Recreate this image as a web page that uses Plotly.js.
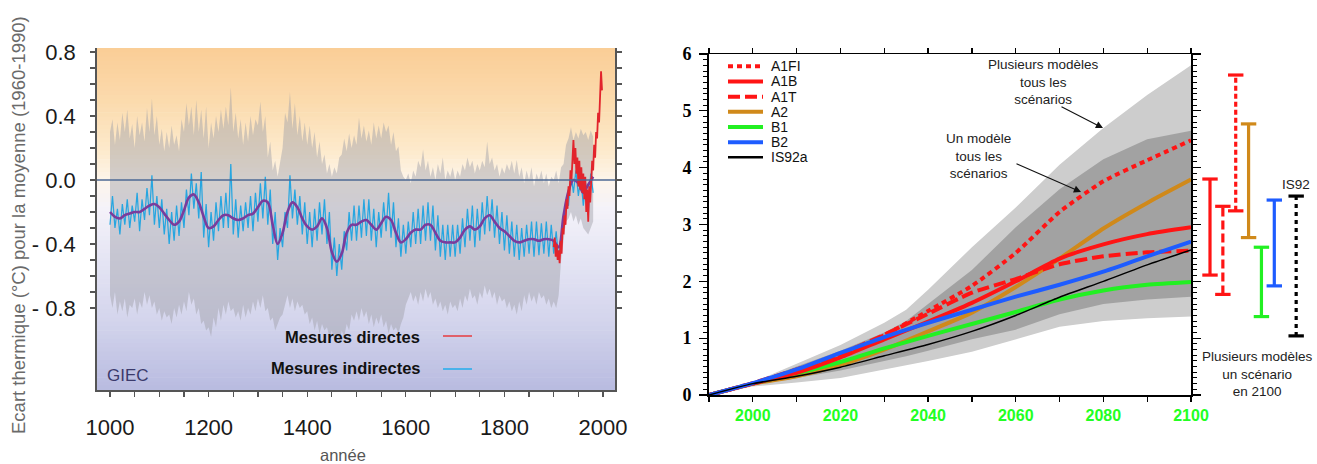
<!DOCTYPE html>
<html><head><meta charset="utf-8">
<script src="https://cdn.plot.ly/plotly-3.0.1.min.js"></script>
<style>html,body{margin:0;padding:0;background:#fff}#chart{width:1317px;height:464px}</style>
</head><body><div id="chart"></div>
<script>
// ================= DATA =================
function yearsFrom(a, b, s){ const r=[]; for(let v=a; v<=b+1e-9; v+=s) r.push(v); return r; }

// ---- Left panel: reconstruction 1000-2000 ----
const proxyYears = yearsFrom(1000, 1980, 5);
const proxy = [
 -0.28,-0.10,-0.30,-0.18,-0.34,-0.15,-0.28,-0.12,-0.30,-0.16,
 -0.26,-0.08,-0.32,-0.12,-0.25,-0.05,-0.22,0.03,-0.28,-0.10,
 -0.30,-0.12,-0.34,-0.18,-0.40,-0.20,-0.38,-0.16,-0.35,-0.14,
 -0.30,-0.06,-0.22,0.04,-0.18,-0.02,-0.24,0.05,-0.36,-0.15,
 -0.42,-0.20,-0.38,-0.14,-0.32,-0.10,-0.30,-0.08,-0.30,0.10,
 -0.34,-0.12,-0.36,-0.16,-0.32,-0.14,-0.30,-0.10,-0.32,-0.08,
 -0.26,-0.02,-0.24,0.02,-0.28,-0.06,-0.40,-0.20,-0.50,-0.30,
 -0.42,-0.20,-0.30,0.03,-0.24,-0.06,-0.28,-0.10,-0.34,-0.14,
 -0.40,-0.20,-0.42,-0.18,-0.38,-0.14,-0.34,-0.12,-0.40,-0.20,
 -0.56,-0.36,-0.60,-0.40,-0.56,-0.32,-0.44,-0.20,-0.38,-0.16,
 -0.38,-0.16,-0.36,-0.12,-0.35,-0.12,-0.38,-0.18,-0.42,-0.20,
 -0.36,-0.14,-0.32,-0.08,-0.36,-0.14,-0.42,-0.24,-0.48,-0.28,
 -0.46,-0.26,-0.42,-0.20,-0.40,-0.18,-0.40,-0.16,-0.38,-0.14,
 -0.38,-0.16,-0.44,-0.22,-0.48,-0.28,-0.50,-0.28,-0.48,-0.28,
 -0.48,-0.28,-0.46,-0.24,-0.42,-0.18,-0.38,-0.16,-0.42,-0.18,
 -0.38,-0.14,-0.34,-0.10,-0.32,-0.12,-0.36,-0.16,-0.40,-0.20,
 -0.44,-0.22,-0.46,-0.26,-0.48,-0.28,-0.50,-0.30,-0.48,-0.28,
 -0.46,-0.26,-0.48,-0.26,-0.47,-0.27,-0.46,-0.26,-0.48,-0.28,
 -0.46,-0.32,-0.50,-0.36,-0.30,-0.14,-0.16,0.04,-0.08,0.06,
 -0.10,0.02,-0.16,-0.02,-0.22,0.04,-0.08
];
const bandHi = [
 0.30,0.38,0.22,0.36,0.25,0.42,0.30,0.44,0.26,0.35,
 0.20,0.40,0.28,0.36,0.24,0.45,0.30,0.51,0.28,0.40,
 0.22,0.32,0.18,0.30,0.20,0.34,0.22,0.28,0.18,0.38,
 0.30,0.48,0.34,0.46,0.28,0.50,0.30,0.44,0.26,0.46,
 0.20,0.36,0.26,0.40,0.30,0.44,0.32,0.46,0.34,0.58,
 0.30,0.42,0.26,0.38,0.22,0.36,0.24,0.40,0.28,0.38,
 0.34,0.49,0.30,0.40,0.14,0.24,0.06,0.12,0.02,0.10,
 0.20,0.42,0.36,0.55,0.32,0.48,0.28,0.40,0.24,0.36,
 0.22,0.34,0.20,0.30,0.14,0.24,0.10,0.16,0.04,0.10,
 0.02,0.08,0.04,0.14,0.16,0.26,0.18,0.29,0.20,0.28,
 0.22,0.39,0.26,0.34,0.24,0.31,0.22,0.36,0.26,0.34,
 0.26,0.36,0.30,0.34,0.22,0.30,0.18,0.21,0.06,0.02,
 0.00,0.04,-0.02,0.06,0.02,0.12,0.08,0.19,0.06,0.12,
 0.02,0.08,0.00,0.10,0.04,0.14,0.00,0.06,0.02,0.08,
 0.00,0.06,0.02,0.10,0.06,0.14,0.08,0.12,0.04,0.10,
 0.06,0.12,0.08,0.24,0.10,0.14,0.06,0.10,0.02,0.08,
 0.04,0.10,0.06,0.12,0.04,0.125,0.02,0.08,-0.02,0.06,
 0.00,0.08,-0.04,0.04,0.00,0.06,-0.02,0.04,-0.04,0.02,
 0.00,0.06,-0.02,0.08,0.10,0.22,0.26,0.33,0.25,0.30,
 0.26,0.32,0.28,0.30,0.25,0.31,0.27
];
const bandLo = [
 -0.72,-0.80,-0.70,-0.84,-0.76,-0.82,-0.74,-0.86,-0.78,-0.80,
 -0.74,-0.84,-0.76,-0.80,-0.70,-0.78,-0.72,-0.80,-0.76,-0.84,
 -0.80,-0.88,-0.82,-0.86,-0.84,-0.90,-0.80,-0.86,-0.78,-0.84,
 -0.76,-0.82,-0.70,-0.78,-0.74,-0.84,-0.80,-0.90,-0.88,-0.94,
 -0.92,-0.98,-0.86,-0.92,-0.80,-0.88,-0.78,-0.84,-0.76,-0.82,
 -0.80,-0.86,-0.82,-0.88,-0.78,-0.86,-0.80,-0.84,-0.76,-0.82,
 -0.74,-0.80,-0.72,-0.82,-0.80,-0.88,-0.86,-0.94,-0.90,-0.86,
 -0.84,-0.78,-0.72,-0.80,-0.74,-0.82,-0.76,-0.80,-0.78,-0.84,
 -0.82,-0.90,-0.86,-0.94,-0.88,-0.96,-0.90,-0.94,-0.92,-0.98,
 -0.94,-1.00,-0.96,-1.02,-0.94,-0.98,-0.90,-0.94,-0.84,-0.88,
 -0.82,-0.88,-0.80,-0.86,-0.82,-0.90,-0.84,-0.92,-0.86,-0.90,
 -0.84,-0.92,-0.88,-0.96,-0.90,-0.94,-0.92,-0.96,-0.90,-0.86,
 -0.78,-0.74,-0.70,-0.76,-0.72,-0.78,-0.70,-0.76,-0.68,-0.74,
 -0.70,-0.78,-0.74,-0.80,-0.76,-0.82,-0.78,-0.84,-0.76,-0.80,
 -0.78,-0.82,-0.74,-0.80,-0.72,-0.76,-0.68,-0.74,-0.72,-0.78,
 -0.70,-0.74,-0.66,-0.72,-0.68,-0.74,-0.70,-0.78,-0.72,-0.76,
 -0.74,-0.80,-0.76,-0.82,-0.78,-0.84,-0.76,-0.82,-0.72,-0.78,
 -0.70,-0.76,-0.72,-0.78,-0.70,-0.74,-0.72,-0.78,-0.74,-0.80,
 -0.76,-0.80,-0.72,-0.50,-0.36,-0.26,-0.24,-0.20,-0.26,-0.22,
 -0.28,-0.24,-0.30,-0.32,-0.34,-0.30,-0.26
];
const smoothYears = yearsFrom(1000, 1980, 10);
const smooth = [
 -0.20,-0.23,-0.24,-0.22,-0.21,-0.20,-0.20,-0.18,-0.16,-0.15,
 -0.17,-0.21,-0.25,-0.28,-0.26,-0.19,-0.11,-0.09,-0.14,-0.23,
 -0.30,-0.29,-0.25,-0.22,-0.22,-0.24,-0.25,-0.24,-0.22,-0.21,
 -0.17,-0.13,-0.14,-0.28,-0.40,-0.33,-0.20,-0.14,-0.17,-0.24,
 -0.29,-0.31,-0.29,-0.24,-0.30,-0.45,-0.51,-0.46,-0.33,-0.28,
 -0.28,-0.26,-0.25,-0.28,-0.31,-0.27,-0.23,-0.25,-0.33,-0.39,
 -0.37,-0.33,-0.31,-0.31,-0.28,-0.28,-0.33,-0.38,-0.39,-0.39,
 -0.39,-0.36,-0.31,-0.29,-0.31,-0.29,-0.24,-0.22,-0.26,-0.30,
 -0.32,-0.35,-0.38,-0.39,-0.38,-0.37,-0.37,-0.38,-0.37,-0.37,
 -0.38,-0.42,-0.22,-0.07,0.00,-0.02,-0.08,-0.03,0.02
];
const directYears = yearsFrom(1900, 1998, 2);
const direct = [
 -0.42,-0.36,-0.48,-0.40,-0.50,-0.44,-0.52,-0.38,-0.46,-0.30,
 -0.34,-0.22,-0.28,-0.12,-0.18,-0.04,-0.10,0.06,0.00,0.18,
 0.25,0.10,0.20,0.04,0.14,-0.04,0.12,-0.06,0.08,-0.08,
 0.04,-0.12,0.02,-0.20,-0.06,-0.26,-0.04,-0.14,0.02,0.12,
 0.06,0.22,0.14,0.30,0.26,0.42,0.36,0.52,0.68,0.56
];
const leftYTickVals = [-0.8,-0.7,-0.6,-0.5,-0.4,-0.3,-0.2,-0.1,0,0.1,0.2,0.3,0.4,0.5,0.6,0.7,0.8];
const leftYTickText = ['- 0.8','','','','- 0.4','','','','0.0','','','','0.4','','','','0.8'];
const leftXTickVals = yearsFrom(1000, 2000, 50);
const leftXLabels = {1000:'1000',1200:'1200',1400:'1400',1600:'1600',1800:'1800',2000:'2000'};

// ---- Right panel: projections 1990-2100 ----
const scenYears = [1990,2000,2010,2020,2030,2040,2050,2060,2070,2080,2090,2100];
const A1FI  = [0,0.20,0.42,0.68,1.05,1.48,1.92,2.50,3.22,3.76,4.13,4.48];
const A1B   = [0,0.20,0.39,0.66,0.98,1.29,1.62,2.00,2.40,2.65,2.83,2.95];
const A1T   = [0,0.21,0.45,0.72,1.06,1.43,1.80,2.04,2.30,2.44,2.51,2.54];
const A2    = [0,0.20,0.33,0.53,0.80,1.12,1.45,1.90,2.40,2.93,3.38,3.79];
const B1    = [0,0.20,0.38,0.58,0.82,1.04,1.25,1.46,1.68,1.84,1.94,1.99];
const B2    = [0,0.21,0.45,0.74,1.02,1.27,1.50,1.73,1.94,2.17,2.44,2.70];
const IS92a = [0,0.20,0.33,0.49,0.69,0.89,1.12,1.40,1.72,2.00,2.29,2.55];
const bandYears = [1990,2000,2010,2020,2030,2035,2040,2050,2060,2070,2080,2090,2100];
const allHi  = [0,0.22,0.55,0.88,1.27,1.50,1.85,2.60,3.30,4.05,4.70,5.28,5.80];
const allLo  = [0,0.15,0.22,0.30,0.45,0.52,0.60,0.76,0.98,1.20,1.30,1.35,1.38];
const oneHi  = [0,0.21,0.50,0.78,1.10,1.30,1.60,2.20,2.95,3.62,4.15,4.50,4.65];
const oneLo  = [0,0.18,0.30,0.43,0.60,0.68,0.78,0.98,1.15,1.42,1.60,1.68,1.73];
const rightXTickVals = [1990,2000,2010,2020,2030,2040,2050,2060,2070,2080,2090,2100];
const rightXTickText = ['','2000','','2020','','2040','','2060','','2080','','2100'];

// 2100 ranges, several models one scenario
const rangeNames = ['A1B','A1T','A1FI','A2','B1','B2','IS92'];
const rangePos   = [1,2,3,4,5,6,7.7];
const rangeLow   = [2.11,1.77,3.24,2.77,1.38,1.92,1.04];
const rangeHigh  = [3.80,3.32,5.63,4.77,2.60,3.43,3.50];

// ================= STYLE =================
const W = 1317, H = 464;
const PX = x => x / W, PY = y => 1 - y / H;
const FONT = 'Liberation Sans, Arial, sans-serif';
const RED='#ff1414', ORANGE='#d0891a', GREEN='#22f022', BLUE='#1e5cff', BLACK='#000000';
const scen = [
  {name:'A1FI', y:A1FI, color:RED, dash:'5px,4px', w:4},
  {name:'A1B', y:A1B, color:RED, dash:'solid', w:4},
  {name:'A1T', y:A1T, color:RED, dash:'12px,5px', w:4},
  {name:'A2', y:A2, color:ORANGE, dash:'solid', w:4},
  {name:'B1', y:B1, color:GREEN, dash:'solid', w:4},
  {name:'B2', y:B2, color:BLUE, dash:'solid', w:4},
  {name:'IS92a', y:IS92a, color:BLACK, dash:'solid', w:1.5}
];
const rangeStyle = {
  'A1B':{color:RED,dash:'solid'}, 'A1T':{color:RED,dash:'9px,4px'}, 'A1FI':{color:RED,dash:'5px,3px'},
  'A2':{color:ORANGE,dash:'solid'}, 'B1':{color:GREEN,dash:'solid'}, 'B2':{color:BLUE,dash:'solid'},
  'IS92':{color:BLACK,dash:'4px,4px'}
};

const traces = [];
// left
traces.push({x:proxyYears, y:bandLo, mode:'lines', line:{width:0,color:'rgba(0,0,0,0)'}, hoverinfo:'skip', xaxis:'x', yaxis:'y'});
traces.push({x:proxyYears, y:bandHi, mode:'lines', fill:'tonexty', fillcolor:'rgba(160,160,168,0.46)', line:{width:0,color:'rgba(0,0,0,0)'}, hoverinfo:'skip', xaxis:'x', yaxis:'y'});
traces.push({x:proxyYears, y:proxy, mode:'lines', line:{color:'#27a6e0', width:1.25}, xaxis:'x', yaxis:'y', name:'Mesures indirectes'});
traces.push({x:smoothYears, y:smooth, mode:'lines', line:{color:'#7a3c9c', width:2.6, shape:'spline', smoothing:1}, xaxis:'x', yaxis:'y'});
traces.push({x:directYears, y:direct, mode:'lines', line:{color:'#e2242c', width:1.8}, xaxis:'x', yaxis:'y', name:'Mesures directes'});
// right bands
traces.push({x:bandYears, y:allLo, mode:'lines', line:{width:0,color:'rgba(0,0,0,0)'}, hoverinfo:'skip', xaxis:'x2', yaxis:'y2'});
traces.push({x:bandYears, y:allHi, mode:'lines', fill:'tonexty', fillcolor:'#cdcdcd', line:{width:0,color:'rgba(0,0,0,0)'}, hoverinfo:'skip', xaxis:'x2', yaxis:'y2'});
traces.push({x:bandYears, y:oneLo, mode:'lines', line:{width:0,color:'rgba(0,0,0,0)'}, hoverinfo:'skip', xaxis:'x2', yaxis:'y2'});
traces.push({x:bandYears, y:oneHi, mode:'lines', fill:'tonexty', fillcolor:'#a2a2a2', line:{width:0,color:'rgba(0,0,0,0)'}, hoverinfo:'skip', xaxis:'x2', yaxis:'y2'});
// scenario lines (draw order)
['A2','B1','A1B','A1T','A1FI','B2','IS92a'].forEach(n => {
  const s = scen.find(d => d.name === n);
  traces.push({x:scenYears, y:s.y, name:s.name, mode:'lines', line:{color:s.color, width:s.w, dash:s.dash, shape:'spline', smoothing:0.6}, xaxis:'x2', yaxis:'y2'});
});
// ranges in 2100
rangeNames.forEach((n,i) => {
  const st = rangeStyle[n];
  traces.push({x:[rangePos[i],rangePos[i]], y:[rangeLow[i],rangeHigh[i]], mode:'lines+markers', name:n,
    line:{color:st.color, width:3.2, dash:st.dash},
    marker:{symbol:'line-ew', size:11, color:st.color, line:{color:st.color, width:3.2}},
    cliponaxis:false, xaxis:'x3', yaxis:'y2'});
});

// gradient background for left plot
const stops = [[0,[250,205,150]],[0.16,[251,219,174]],[0.30,[253,234,204]],[0.39,[253,245,235]],[0.47,[244,242,249]],[0.62,[229,229,244]],[0.80,[211,212,236]],[1,[184,187,224]]];
function gcol(t){
  for(let i=0;i<stops.length-1;i++){
    const [t0,c0]=stops[i],[t1,c1]=stops[i+1];
    if(t<=t1){const f=(t-t0)/(t1-t0);return 'rgb('+c0.map((c,k)=>Math.round(c+(c1[k]-c)*f)).join(',')+')';}
  }
  return 'rgb('+stops[stops.length-1][1].join(',')+')';
}
const shapes = [];
const N = 80;
for(let i=0;i<N;i++){
  const tTop=i/N, tBot=(i+1)/N;
  shapes.push({type:'rect', xref:'x domain', yref:'y domain', x0:0, x1:1, y0:1-tBot-0.002, y1:1-tTop, fillcolor:gcol((tTop+tBot)/2), line:{width:0}, layer:'below'});
}
// zero reference line
shapes.push({type:'line', xref:'x domain', yref:'y', x0:0, x1:1, y0:0, y1:0, line:{color:'#4d6894', width:1.6}, layer:'above'});
// left legend samples
shapes.push({type:'line', xref:'paper', yref:'paper', x0:PX(443), x1:PX(472), y0:PY(336), y1:PY(336), line:{color:'#e0606a', width:2}});
shapes.push({type:'line', xref:'paper', yref:'paper', x0:PX(443), x1:PX(472), y0:PY(369), y1:PY(369), line:{color:'#4ab2ea', width:2}});
// right legend samples
const annotations = [];
scen.forEach((s,i) => {
  const yy = 66.3 + i*15.17;
  shapes.push({type:'line', xref:'paper', yref:'paper', x0:PX(728), x1:PX(763), y0:PY(yy), y1:PY(yy), line:{color:s.color, width:s.name==='IS92a'?2.5:4, dash:s.dash}});
  annotations.push({xref:'paper', yref:'paper', x:PX(769), y:PY(yy), xanchor:'left', yanchor:'middle', text:s.name, showarrow:false, font:{family:FONT, size:14, color:'#111'}});
});

function txt(t, x, y, opts){ return Object.assign({xref:'paper', yref:'paper', x:PX(x), y:PY(y), text:t, showarrow:false, xanchor:'center', yanchor:'middle', font:{family:FONT, size:14, color:'#1a1a1a'}}, opts||{}); }
annotations.push(txt('Ecart thermique (°C) pour la moyenne (1960-1990)', 18, 225, {textangle:-90, font:{family:FONT, size:18.5, color:'#6a6a6a'}}));
annotations.push(txt('année', 343, 455, {font:{family:FONT, size:16.5, color:'#555'}}));
annotations.push(txt('GIEC', 105, 375, {xanchor:'left', font:{family:FONT, size:17, color:'#3b3a6b'}}));
annotations.push(txt('Mesures directes', 422, 337, {xanchor:'right', font:{family:FONT, size:16.5, color:'#111', weight:700}}));
annotations.push(txt('Mesures indirectes', 422, 368, {xanchor:'right', font:{family:FONT, size:16.5, color:'#111', weight:700}}));
// right panel notes
const noteFont = {family:FONT, size:13.5, color:'#222'};
annotations.push(txt('Plusieurs modèles<br>tous les<br>scénarios', 1043, 82, {font:noteFont}));
annotations.push(txt('Un modèle<br>tous les<br>scénarios', 978, 156, {font:noteFont}));
annotations.push(txt('Plusieurs modèles<br>un scénario<br>en 2100', 1257, 374, {font:noteFont}));
annotations.push(txt('IS92', 1296, 184, {font:noteFont}));
// arrows
annotations.push({xref:'paper', yref:'paper', x:PX(1103), y:PY(128), ax:-43, ay:-22, text:'', showarrow:true, arrowhead:2, arrowsize:1.3, arrowwidth:1.1, arrowcolor:'#111', standoff:0});
annotations.push({xref:'paper', yref:'paper', x:PX(1081), y:PY(192), ax:-66, ay:-29, text:'', showarrow:true, arrowhead:2, arrowsize:1.3, arrowwidth:1.1, arrowcolor:'#111', standoff:0});

const layout = {
  width:W, height:H, margin:{l:0,r:0,t:0,b:0}, paper_bgcolor:'#ffffff', plot_bgcolor:'rgba(0,0,0,0)',
  showlegend:false, font:{family:FONT},
  xaxis:{domain:[PX(97),PX(615)], range:[973.6,2024.3], anchor:'y', tickmode:'array', tickvals:leftXTickVals,
    ticktext:leftXTickVals.map(v => leftXLabels[v] || ''), ticks:'outside', ticklen:5, tickwidth:1.2, tickcolor:'#555',
    showline:true, linecolor:'#555', linewidth:1.8, showgrid:false, zeroline:false,
    tickfont:{family:FONT, size:22, color:'#1a1a1a'}, ticklabelstandoff:12, fixedrange:true},
  yaxis:{domain:[PY(390),PY(48)], range:[-1.3125,0.825], anchor:'x', tickmode:'array', tickvals:leftYTickVals, ticktext:leftYTickText,
    ticks:'outside', ticklen:5, tickwidth:1.2, tickcolor:'#555', mirror:'ticks', showline:true, linecolor:'#555', linewidth:1.8,
    showgrid:false, zeroline:false, tickfont:{family:FONT, size:22, color:'#1a1a1a'}, ticklabelstandoff:10, fixedrange:true},
  xaxis2:{domain:[PX(709),PX(1191)], range:[1990,2100], anchor:'y2', tickmode:'array', tickvals:rightXTickVals, ticktext:rightXTickText,
    ticks:'outside', ticklen:5, tickwidth:1.2, tickcolor:'#000', mirror:'ticks', showline:true, linecolor:'#000', linewidth:1.5,
    showgrid:false, zeroline:false, tickfont:{family:FONT, size:16, color:'#22ff22', weight:700}, fixedrange:true},
  yaxis2:{domain:[PY(395),PY(54)], range:[0,6], anchor:'x2', dtick:1, tick0:0, ticks:'outside', ticklen:8, tickwidth:1.2, tickcolor:'#000',
    minor:{dtick:0.1, ticklen:4, tickwidth:1, tickcolor:'#000', ticks:'outside', showgrid:false},
    mirror:'ticks', showline:true, linecolor:'#000', linewidth:1.8, showgrid:false, zeroline:false,
    tickfont:{family:'Liberation Serif, Times New Roman, serif', size:18, color:'#000', weight:700}, ticklabelstandoff:4, fixedrange:true},
  xaxis3:{domain:[PX(1197.14),1], range:[0,9.32], anchor:'y2', visible:false, fixedrange:true},
  shapes:shapes, annotations:annotations
};
Plotly.newPlot('chart', traces, layout, {staticPlot:true, displayModeBar:false});
</script>
</body></html>
